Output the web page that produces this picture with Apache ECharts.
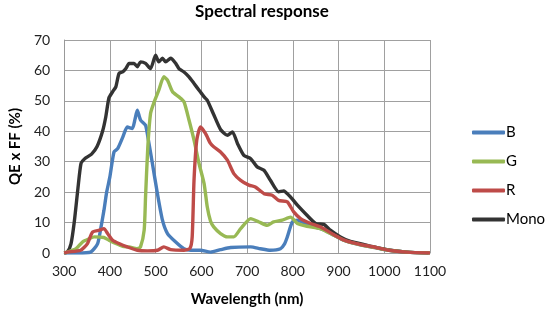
<!DOCTYPE html>
<html><head><meta charset="utf-8">
<script src="https://cdn.jsdelivr.net/npm/echarts@6/dist/echarts.min.js"></script>
<style>html,body{margin:0;padding:0;background:#fff}#c{width:554px;height:331px}</style>
</head><body><div id="c"></div>
<script>
const seriesNames = ['B', 'G', 'R', 'Mono'];
const xTicks = [300, 400, 500, 600, 700, 800, 900, 1000, 1100];
const yTicks = [0, 10, 20, 30, 40, 50, 60, 70];

const wlB = [300, 330, 358, 373, 380, 387, 393, 400, 409, 417, 428, 438, 449, 455, 460, 467, 478, 483, 493, 504, 515, 526, 544, 562, 577, 598, 620, 642, 664, 708, 729, 751, 773, 782, 788, 799, 810, 830, 850, 870, 890, 910, 930, 950, 980, 1010, 1050, 1100];
const valB = [0, 0, 0.3, 3, 8, 14, 20, 25, 33.2, 34.3, 38, 41.4, 40.9, 44, 46.9, 43.7, 42, 38.2, 29.4, 19.5, 10.8, 6.4, 3.6, 1.4, 0.9, 0.9, 0.3, 1.1, 1.8, 2, 1.4, 0.9, 1.4, 3, 5.3, 10.2, 10.8, 9.5, 8.5, 7.5, 5.8, 4.3, 3.3, 2.6, 1.8, 0.9, 0.3, 0];

const wlG = [300, 307, 326, 340, 355, 366, 387, 398, 413, 428, 442, 460, 467, 475, 478, 483, 489, 497, 507, 518, 526, 537, 551, 562, 573, 584, 595, 606, 613, 620, 627, 642, 657, 671, 686, 708, 726, 744, 758, 777, 795, 810, 831, 860, 890, 911, 930, 950, 980, 1010, 1050, 1100];
const valG = [0, 0.3, 1.4, 3.6, 4.7, 5.3, 5.1, 4.2, 3.1, 2.2, 2, 1.4, 2, 7.5, 18.4, 34.9, 45.9, 49.7, 53.5, 57.9, 56.8, 53, 51.3, 49.7, 43.7, 37.1, 29.4, 22.8, 15.1, 10.5, 8.6, 6.4, 5.3, 5.3, 8, 11.3, 10.2, 9.1, 10.2, 10.8, 11.8, 9.7, 8.8, 8, 5.8, 4.2, 3.3, 2.6, 1.8, 0.9, 0.3, 0];

const wlR = [300, 307, 336, 351, 362, 377, 387, 395, 406, 420, 438, 460, 482, 504, 518, 533, 562, 575, 580, 584, 590, 598, 609, 620, 627, 642, 657, 671, 686, 704, 718, 737, 755, 769, 788, 802, 817, 839, 860, 890, 911, 930, 950, 980, 1010, 1050, 1100];
const valR = [0, 0.3, 0.9, 3.1, 6.9, 7.5, 8, 6.4, 4.2, 3.1, 2, 0.9, 0.7, 0.9, 2, 1.1, 0.9, 1.5, 5.3, 23.9, 37.1, 41.4, 39.3, 36, 34.9, 33.2, 30.5, 26.1, 23.9, 22.3, 21.7, 19.5, 19, 17.3, 16.8, 13.5, 11.3, 9.7, 8.6, 6, 4.3, 3.4, 2.7, 1.9, 0.9, 0.3, 0];

const wlM = [300, 307, 315, 322, 330, 337, 345, 360, 372, 384, 391, 398, 406, 413, 420, 428, 435, 442, 453, 460, 467, 478, 489, 500, 507, 515, 522, 533, 544, 551, 562, 573, 584, 595, 606, 613, 627, 642, 657, 668, 679, 693, 708, 722, 737, 751, 769, 780, 795, 810, 831, 850, 868, 882, 904, 926, 948, 977, 1013, 1050, 1097];
const valM = [0, 0.3, 3, 10, 21, 29.5, 31, 32.5, 35, 40, 44.7, 51, 53, 54.6, 59, 59.5, 60.6, 62.3, 62.3, 61.2, 62.8, 62.3, 60.6, 65, 62.8, 64, 62.8, 64, 62.3, 60.6, 59.5, 57.9, 55.7, 53.5, 51.3, 50.2, 45.5, 40.6, 38.7, 39.8, 36, 32.1, 31, 28.3, 27.2, 23.9, 20.1, 20.4, 18.4, 15.7, 12.4, 9.7, 9.4, 7.5, 5.3, 3.8, 3.1, 2, 0.9, 0.3, 0];

const colors = ['#4a7ebb', '#98b954', '#be4b48', '#333333'];
const wls = [wlB, wlG, wlR, wlM];
const vals = [valB, valG, valR, valM];
const FONT = 'Lato';

const chart = echarts.init(document.getElementById('c'));
chart.setOption({
  animation: false,
  textStyle: { fontFamily: FONT },
  title: {
    text: 'Spectral response', left: 257, top: -2, textAlign: 'center',
    textStyle: { fontFamily: FONT, fontSize: 17, fontWeight: 'bold', color: '#000' }
  },
  grid: { left: 63, right: 124, top: 40, bottom: 78 },
  legend: {
    orient: 'vertical', left: 467, top: 120, itemWidth: 33, itemHeight: 4, itemGap: 14,
    icon: 'roundRect',
    data: seriesNames,
    textStyle: { fontFamily: FONT, fontSize: 15, color: '#000', padding: [0, 0, 0, -4] }
  },
  xAxis: {
    type: 'value', min: xTicks[0], max: xTicks[xTicks.length - 1], interval: 100,
    name: 'Wavelength (nm)', nameLocation: 'middle', nameGap: 39,
    nameTextStyle: { fontFamily: FONT, fontSize: 15, fontWeight: 'bold', color: '#000' },
    axisLine: { show: true, lineStyle: { color: '#999', width: 1 } },
    axisTick: { show: false },
    axisLabel: { fontFamily: FONT, fontSize: 14, color: '#222', margin: 11, formatter: v => String(v) },
    splitLine: { show: true, lineStyle: { color: '#a0a0a0', width: 1 } }
  },
  yAxis: {
    type: 'value', min: yTicks[0], max: yTicks[yTicks.length - 1], interval: 10,
    name: 'QE x FF (%)', nameLocation: 'middle', nameGap: 40, nameRotate: 90,
    nameTextStyle: { fontFamily: FONT, fontSize: 15, fontWeight: 'bold', color: '#000' },
    axisLine: { show: true, lineStyle: { color: '#999', width: 1 } },
    axisTick: { show: false },
    axisLabel: { fontFamily: FONT, fontSize: 14, color: '#222', margin: 14, formatter: v => String(v) },
    splitLine: { show: true, lineStyle: { color: '#a0a0a0', width: 1 } }
  },
  series: seriesNames.map((n, i) => ({
    name: n, type: 'line', showSymbol: false, symbol: 'none',
    smooth: 0.2,
    color: colors[i],
    lineStyle: { width: 3.4, color: colors[i] },
    data: wls[i].map((w, j) => [w, vals[i][j]]),
    z: 2 + (i === 3 ? 0 : i)
  }))
});
</script></body></html>
